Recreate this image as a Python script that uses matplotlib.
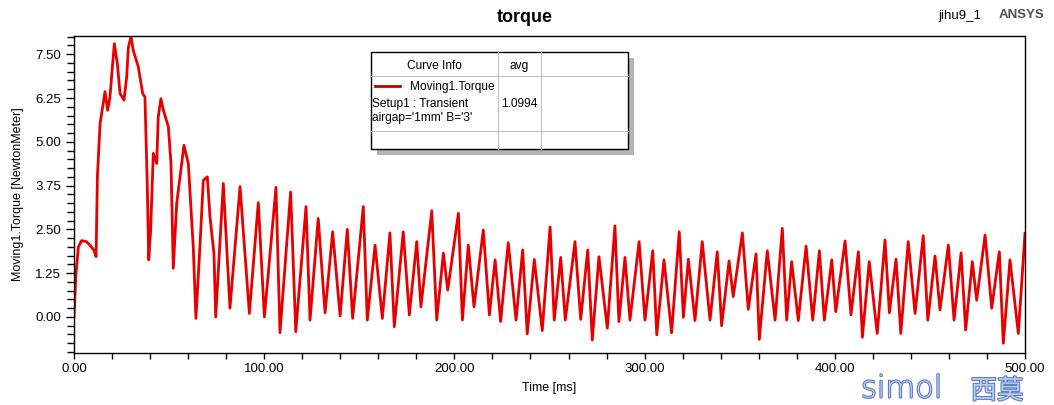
import matplotlib
matplotlib.use("Agg")
import matplotlib.pyplot as plt
from matplotlib.ticker import MultipleLocator, FormatStrFormatter
from matplotlib.patches import Rectangle
from matplotlib.lines import Line2D
import matplotlib.patheffects as pe

plt.rcParams['font.family'] = ['Liberation Sans', 'DejaVu Sans']

# ---- data (time in ms, torque in N*m) ----
time_ms = [0.0, 1.0, 2.3, 4.0, 6.5, 8.4, 10.5, 11.6,
           12.3, 13.7, 16.3, 17.7, 18.9, 21.2, 22.8, 24.2, 26.3, 27.7, 28.6, 30.0,
           31.2, 33.8, 36.1, 37.3, 38.5, 39.3, 40.3, 41.7, 43.5, 44.3, 45.7, 47.0,
           49.6, 51.0, 52.2, 54.0, 57.8, 60.1, 62.7, 64.1, 66.2, 68.0, 70.1, 71.5,
           73.6, 74.5,
           78.5, 82.0, 87.3, 92.2, 96.9, 100.1, 106.2, 108.3, 113.9, 116.6, 122.0,
           124.1, 128.4, 132.0, 136.0, 139.9, 143.7, 146.5,
           152.1, 154.2, 158.3, 162.1, 166.1, 168.4, 173.1, 176.3, 180.2, 182.4,
           188.1, 190.7, 194.2, 196.5, 202.1, 204.2, 207.3, 210.3, 215.2, 218.4,
           221.4, 224.3,
           228.3, 232.4, 235.9, 238.3, 242.0, 246.2, 250.3, 252.5, 255.9, 258.3,
           263.4, 266.4, 270.1, 272.5, 276.0, 280.4, 284.4, 286.5, 289.7, 292.3,
           297.1, 300.2, 304.3, 306.4,
           310.2, 314.2, 318.2, 320.4, 323.0, 326.5, 330.3, 334.4, 338.2, 340.5,
           344.4, 346.6, 351.4, 354.5, 358.6, 360.3, 364.5, 368.6, 372.4, 374.7,
           377.3, 380.8, 384.9,
           388.4, 391.9, 394.5, 398.4, 400.5, 405.4, 408.5, 412.4, 414.5, 418.1,
           422.3, 426.4, 428.7, 432.2, 434.7, 438.6, 442.2, 446.5, 448.9, 452.7,
           455.3, 459.7, 462.7,
           466.4, 468.8, 472.3, 474.6, 479.0, 482.5, 486.5, 488.6, 492.1, 496.5,
           500.0]
torque = [0.0, 1.2, 2.0, 2.18, 2.15, 2.05, 1.9, 1.72,
          4.0, 5.52, 6.43, 5.9, 6.28, 7.8, 7.23, 6.38, 6.19, 6.85, 7.7, 8.0,
          7.6, 7.14, 6.38, 6.28, 3.81, 1.63, 2.48, 4.67, 4.38, 5.71, 6.23, 5.9,
          5.43, 4.38, 1.39, 3.24, 4.9, 4.38, 2.0, -0.04, 2.0, 3.9, 4.0, 2.86,
          1.8, 0.0,
          3.81, 0.25, 3.72, 0.1, 3.26, 0.0, 3.7, -0.45, 3.57, -0.42, 3.15,
          -0.09, 2.81, 0.12, 2.43, 0.03, 2.5, -0.04,
          3.15, -0.09, 2.05, -0.04, 2.4, -0.28, 2.43, 0.06, 2.15, 0.29,
          3.03, -0.09, 1.82, 0.77, 2.96, -0.09, 2.05, 0.29, 2.48, 0.06,
          1.63, -0.13,
          2.12, -0.09, 1.91, -0.48, 1.64, -0.39, 2.57, -0.09, 1.7, -0.09,
          2.15, -0.07, 1.91, -0.66, 1.72, -0.32, 2.6, -0.13, 1.7, -0.09,
          2.15, -0.09, 1.89, -0.51,
          1.63, -0.45, 2.43, -0.01, 1.65, -0.1, 2.15, -0.09, 1.86, -0.25,
          1.6, 0.58, 2.4, 0.22, 1.8, -0.64, 1.89, -0.09, 2.53, -0.09,
          1.58, -0.1, 2.02,
          -0.09, 1.89, -0.09, 1.63, 0.15, 2.17, 0.06, 1.86, -0.58, 1.58,
          -0.47, 2.2, 0.12, 1.65, -0.47, 2.15, 0.1, 2.32, -0.09, 1.74,
          0.2, 2.05, -0.09,
          1.83, -0.37, 1.58, 0.48, 2.34, 0.25, 1.86, -0.75, 1.63, -0.47,
          2.39]

series_name = "Moving1.Torque"
setup_text = "Setup1 : Transient"
variation_text = "airgap='1mm' B='3'"
avg_value = "1.0994"

W, H = 1054, 405
fig = plt.figure(figsize=(W / 100, H / 100), dpi=100)
ax = fig.add_axes([74 / W, 1 - 352.7 / H, (1025 - 74) / W, (352.7 - 36) / H])

ax.plot(time_ms, torque, color='#e60000', lw=2.0, solid_joinstyle='round')

ax.set_xlim(0, 500)
ax.set_ylim(-1.02, 8.02)
ax.xaxis.set_major_locator(MultipleLocator(100))
ax.xaxis.set_minor_locator(MultipleLocator(20))
ax.yaxis.set_major_locator(MultipleLocator(1.25))
ax.yaxis.set_minor_locator(MultipleLocator(0.25))
ax.xaxis.set_major_formatter(FormatStrFormatter('%.2f'))
ax.yaxis.set_major_formatter(FormatStrFormatter('%.2f'))
ax.tick_params(which='both', direction='out', color='black', labelsize=9.5)
ax.tick_params(axis='y', which='major', length=6, width=1)
ax.tick_params(axis='y', which='minor', length=5, width=1)
ax.tick_params(axis='x', which='both', length=4, width=1)
for s in ax.spines.values():
    s.set_linewidth(1.0)
    s.set_color('black')

ax.set_xlabel('Time [ms]', fontsize=9, labelpad=5)
ax.set_ylabel('Moving1.Torque [NewtonMeter]', fontsize=9, labelpad=8)

fig.text(525 / W, 1 - 17 / H, 'torque', ha='center', va='center', fontsize=13, fontweight='bold')
fig.text(960 / W, 1 - 16 / H, 'jihu9_1', ha='center', va='center', fontsize=9.5)
fig.text(1021 / W, 1 - 15 / H, 'ANSYS', ha='center', va='center', fontsize=9.5,
         fontweight='bold', color='#505050')

# ---- legend table ----
def fx(px):
    return px / W

def fy(py):
    return 1 - py / H

x0, x1, x2, x3 = 371, 498, 541, 628
y0, y1, y2, y3 = 52, 76, 131, 149
fig.patches.append(Rectangle((fx(x0 + 6), fy(y3 + 6)), fx(x3 - x0), (y3 - y0) / H,
                             transform=fig.transFigure, facecolor='#b4b4b4',
                             edgecolor='none', zorder=5))
fig.patches.append(Rectangle((fx(x0), fy(y3)), fx(x3 - x0), (y3 - y0) / H,
                             transform=fig.transFigure, facecolor='white',
                             edgecolor='black', lw=1.0, zorder=6))
for xx in (x1, x2):
    fig.add_artist(Line2D([fx(xx), fx(xx)], [fy(y0), fy(y3)], color='#c0c0c0', lw=0.8, zorder=7))
for yy in (y1, y2):
    fig.add_artist(Line2D([fx(x0), fx(x3)], [fy(yy), fy(yy)], color='#c0c0c0', lw=0.8, zorder=7))
fig.add_artist(Line2D([fx(375), fx(400)], [fy(86), fy(86)], color='#c00000', lw=2.0, zorder=8))
fs_leg = 8.6
fig.text(fx((x0 + x1) / 2), fy(66), 'Curve Info', ha='center', va='center', fontsize=fs_leg, zorder=8)
fig.text(fx((x1 + x2) / 2), fy(66), 'avg', ha='center', va='center', fontsize=fs_leg, zorder=8)
fig.text(fx(410), fy(87), series_name, ha='left', va='center', fontsize=fs_leg, zorder=8)
fig.text(fx(372), fy(104), setup_text, ha='left', va='center', fontsize=fs_leg, zorder=8)
fig.text(fx(372), fy(118), variation_text, ha='left', va='center', fontsize=fs_leg, zorder=8)
fig.text(fx((x1 + x2) / 2), fy(104), avg_value, ha='center', va='center', fontsize=fs_leg, zorder=8)

# watermark
t1 = fig.text(fx(861), fy(389), 'simol', ha='left', va='center', fontsize=22,
              color='#b9cdee', family=['DejaVu Sans'], fontweight='light')
t1.set_path_effects([pe.Stroke(linewidth=1.4, foreground='#4f74bd'), pe.Normal()])
t2 = fig.text(fx(997), fy(391), '西莫', ha='center', va='center', fontsize=19,
              color='#b9cdee', family=['Noto Sans CJK SC', 'DejaVu Sans'])
t2.set_path_effects([pe.Stroke(linewidth=1.4, foreground='#4f74bd'), pe.Normal()])

fig.savefig('out.png', dpi=100)
